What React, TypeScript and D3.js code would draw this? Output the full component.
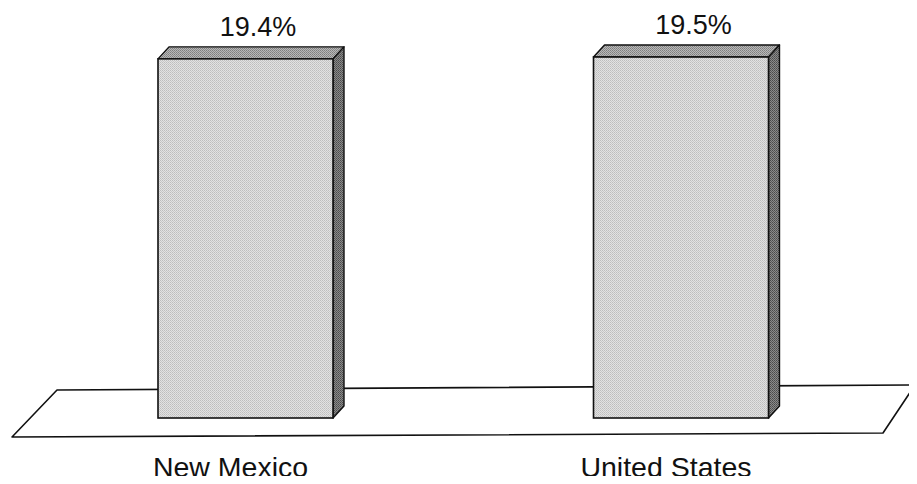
import React from "react";
import * as d3 from "d3";

const categories = ["New Mexico", "United States"];
const values = [19.4, 19.5];
const valueLabels = ["19.4%", "19.5%"];

const W = 917;
const H = 484;

export default function App() {
  const x = d3.scalePoint<string>().domain(categories).range([245.5, 681]);
  const y = d3.scaleLinear().domain([0, 19.5]).range([418, 57]);
  const barW = 175;
  const dx = 11;
  const dy = -12;

  const floor = d3.line()([
    [57, 390],
    [915, 385],
    [883, 433],
    [12, 437],
  ]) + "Z";

  return (
    <div style={{ margin: -8 }}>
      <svg width={W} height={H} style={{ display: "block", background: "#fff" }}>
        <defs>
          <pattern id="pFront" width="2" height="2" patternUnits="userSpaceOnUse">
            <rect width="2" height="2" fill="#e2e2e2" />
            <rect width="1" height="1" fill="#bdbdbd" />
            <rect x="1" y="1" width="1" height="1" fill="#c8c8c8" />
          </pattern>
          <pattern id="pTop" width="2" height="2" patternUnits="userSpaceOnUse">
            <rect width="2" height="2" fill="#b8b8b8" />
            <rect width="1" height="1" fill="#7e7e7e" />
            <rect x="1" y="1" width="1" height="1" fill="#8c8c8c" />
          </pattern>
          <pattern id="pSide" width="2" height="2" patternUnits="userSpaceOnUse">
            <rect width="2" height="2" fill="#8a8a8a" />
            <rect width="1" height="1" fill="#4a4a4a" />
            <rect x="1" y="1" width="1" height="1" fill="#5a5a5a" />
          </pattern>
        </defs>
        <path d={floor} fill="#fff" stroke="#111" strokeWidth={1.6} strokeLinejoin="round" />
        {categories.map((c, i) => {
          const cx = x(c) as number;
          const x0 = cx - barW / 2;
          const x1 = cx + barW / 2;
          const yt = y(values[i]);
          const yb = y(0);
          const top = d3.line()([
            [x0, yt],
            [x0 + dx, yt + dy],
            [x1 + dx, yt + dy],
            [x1, yt],
          ]) + "Z";
          const side = d3.line()([
            [x1, yt],
            [x1 + dx, yt + dy],
            [x1 + dx, yb + dy],
            [x1, yb],
          ]) + "Z";
          return (
            <g key={c}>
              <path d={top} fill="url(#pTop)" stroke="#111" strokeWidth={1.4} strokeLinejoin="round" />
              <path d={side} fill="url(#pSide)" stroke="#111" strokeWidth={1.4} strokeLinejoin="round" />
              <rect x={x0} y={yt} width={barW} height={yb - yt} fill="url(#pFront)" stroke="#111" strokeWidth={1.6} />
              <text
                x={cx + 12.5}
                y={yt - 23}
                textAnchor="middle"
                fontFamily="'Liberation Sans', Arial, sans-serif"
                fontSize={27}
                fill="#111"
              >
                {valueLabels[i]}
              </text>
              <text
                x={cx - 15}
                y={477}
                textAnchor="middle"
                fontFamily="'Liberation Sans', Arial, sans-serif"
                fontSize={28.5}
                fill="#111"
              >
                {c}
              </text>
            </g>
          );
        })}
      </svg>
    </div>
  );
}
